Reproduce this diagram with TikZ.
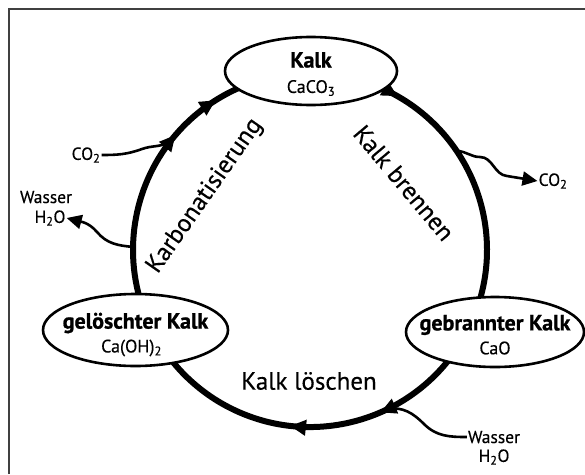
\documentclass[tikz,border=0pt]{standalone}
\usepackage{fontspec}
\setmainfont{PT Sans}[UprightFeatures={FakeBold=0.35}, BoldFeatures={FakeBold=0.9}]
\usetikzlibrary{arrows.meta,positioning,shapes.geometric,decorations.markings}

\begin{document}
\begin{tikzpicture}[x=1pt,y=1pt,
      ellipse_node/.style={
         ellipse,
         draw=black,
         line width=2.6pt,
         fill=white,
         inner sep=0pt},
      name_text/.style={
         font=\fontsize{22}{24}\selectfont\bfseries,
         inner sep=0pt},
      formula_text/.style={
         font=\fontsize{18}{20}\selectfont,
         inner sep=0pt},
      process_text/.style={
         font=\fontsize{25}{27}\selectfont,
         inner sep=0pt},
      small_text/.style={
         font=\fontsize{17.5}{19}\selectfont,
         inner sep=1pt},
      frame_line/.style={
         line width=1.5pt,
         draw=black!75},
      cycle_arc/.style={
         line width=6pt,
         postaction=decorate},
      wavy_line/.style={
         line width=2.6pt},
      wavy_arrow/.style={
         wavy_line,
         -{Triangle[length=15pt,width=14pt]}}
]
      \useasboundingbox (0,0) rectangle (585,-474);
      \draw[frame_line] (9,-474) -- (9,-9) -- (585,-9);

      %ring
      \coordinate (ring) at (310,-250);
      \foreach \name/\ang in {top/90, right_in/-20, right_out/-25, left_in/205,
                              co2_out/34, h2o_out/179, co2_in/142, wasser_in/-64}
        \coordinate (r_\name) at ([shift={(\ang:177)}]ring);

      % Kalk brennen
      \draw[cycle_arc, decoration={markings,
            mark=at position 0.27 with {\arrow{Triangle[length=16pt,width=15pt]}}}]
        (r_top) arc[start angle=90, end angle=-20, radius=177];
      % Kalk loeschen
      \draw[cycle_arc, decoration={markings,
            mark=at position 0.32 with {\arrow{Triangle[length=16pt,width=15pt]}},
            mark=at position 0.55 with {\arrow{Triangle[length=16pt,width=15pt]}}}]
        (r_right_out) arc[start angle=-25, end angle=-155, radius=177];
      % Karbonatisierung
      \draw[cycle_arc, decoration={markings,
            mark=at position 0.57 with {\arrow{Triangle[length=16pt,width=15pt]}},
            mark=at position 0.72 with {\arrow{Triangle[length=16pt,width=15pt]}}}]
        (r_left_in) arc[start angle=205, end angle=90, radius=177];

      %substances
      \node[ellipse_node, minimum width=172pt, minimum height=68pt] (kalk) at (311,-71) {};
      \node[ellipse_node, minimum width=185pt, minimum height=72pt] (geloescht) at (135.5,-330) {};
      \node[ellipse_node, minimum width=178pt, minimum height=70pt] (gebrannt) at (495,-332) {};

      \node[name_text] (kalk_name) at ([yshift=11pt]kalk.center) {Kalk};
      \node[formula_text] (kalk_formula) at ([yshift=-17pt]kalk.center) {CaCO\textsubscript{3}};
      \node[name_text] (geloescht_name) at ([yshift=7pt]geloescht.center) {gelöschter Kalk};
      \node[formula_text] (geloescht_formula) at ([xshift=-4pt,yshift=-18pt]geloescht.center) {Ca(OH)\textsubscript{2}};
      \node[name_text] (gebrannt_name) at ([yshift=7pt]gebrannt.center) {gebrannter Kalk};
      \node[formula_text] (gebrannt_formula) at ([yshift=-16pt]gebrannt.center) {CaO};

      %processes
      \node[process_text] (loeschen) at (309,-381) {Kalk löschen};
      \node[process_text, rotate=55] (karbo) at (205,-196) {Karbonatisierung};
      \node[process_text, rotate=-50] (brennen) at (404,-183) {Kalk brennen};

      %in and out
      \node[small_text] (co2_left) at (86,-155) {CO\textsubscript{2}};
      \node[small_text] (co2_right) at (553,-181) {CO\textsubscript{2}};
      \node[small_text] (wasser_left) at (46,-197) {Wasser};
      \node[small_text] (h2o_left) at (50,-218) {H\textsubscript{2}O};
      \node[small_text] (wasser_bottom) at (494,-437) {Wasser};
      \node[small_text] (h2o_bottom) at (494,-457) {H\textsubscript{2}O};

      \draw[wavy_line] (co2_left.east) to[out=0,in=200] (142,-149) to[out=20,in=215] (r_co2_in);
      \draw[wavy_arrow] (r_co2_out) to[out=0,in=180] (480,-157) to[out=0,in=175] (507,-176) -- (co2_right.west);
      \draw[wavy_arrow] (r_h2o_out) to[out=175,in=-50] (97,-232) to[out=130,in=-15] (h2o_left.east);
      \draw[wavy_line] (wasser_bottom.west) to[out=180,in=-45] (424,-424) to[out=135,in=10] (r_wasser_in);

\end{tikzpicture}
\end{document}
